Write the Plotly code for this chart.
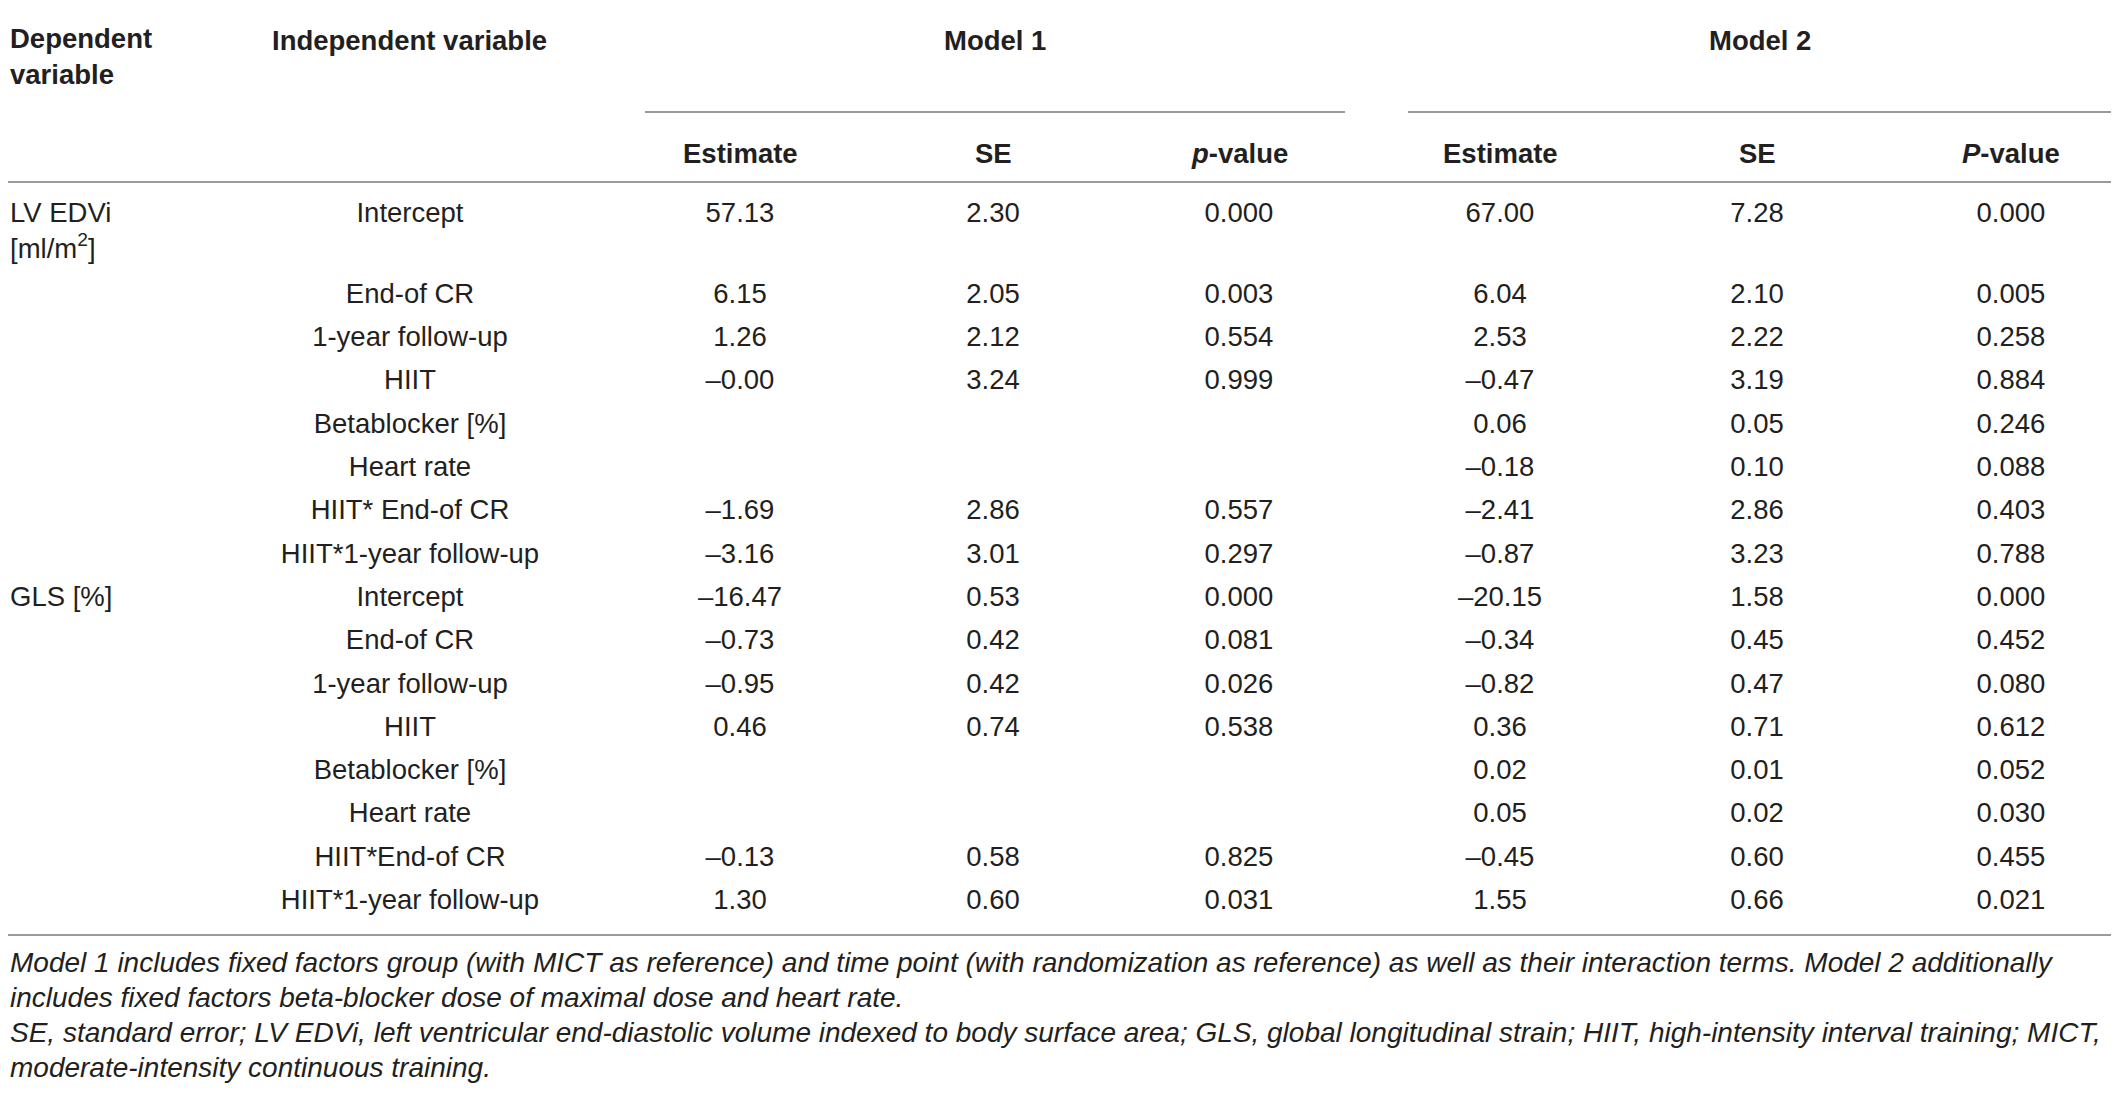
import plotly.graph_objects as go

##### DATA #####
dependent = ["LV EDVi<br>[ml/m<sup>2</sup>]", "GLS [%]"]

indep_lv = ["Intercept", "End-of CR", "1-year follow-up", "HIIT", "Betablocker [%]",
            "Heart rate", "HIIT* End-of CR", "HIIT*1-year follow-up"]
indep_gls = ["Intercept", "End-of CR", "1-year follow-up", "HIIT", "Betablocker [%]",
             "Heart rate", "HIIT*End-of CR", "HIIT*1-year follow-up"]

# model 1 (no betablocker / heart rate terms -> None)
m1_est_lv = [57.13, 6.15, 1.26, -0.00, None, None, -1.69, -3.16]
m1_se_lv = [2.30, 2.05, 2.12, 3.24, None, None, 2.86, 3.01]
m1_p_lv = [0.000, 0.003, 0.554, 0.999, None, None, 0.557, 0.297]
m1_est_gls = [-16.47, -0.73, -0.95, 0.46, None, None, -0.13, 1.30]
m1_se_gls = [0.53, 0.42, 0.42, 0.74, None, None, 0.58, 0.60]
m1_p_gls = [0.000, 0.081, 0.026, 0.538, None, None, 0.825, 0.031]

# model 2
m2_est_lv = [67.00, 6.04, 2.53, -0.47, 0.06, -0.18, -2.41, -0.87]
m2_se_lv = [7.28, 2.10, 2.22, 3.19, 0.05, 0.10, 2.86, 3.23]
m2_p_lv = [0.000, 0.005, 0.258, 0.884, 0.246, 0.088, 0.403, 0.788]
m2_est_gls = [-20.15, -0.34, -0.82, 0.36, 0.02, 0.05, -0.45, 1.55]
m2_se_gls = [1.58, 0.45, 0.47, 0.71, 0.01, 0.02, 0.60, 0.66]
m2_p_gls = [0.000, 0.452, 0.080, 0.612, 0.052, 0.030, 0.455, 0.021]

col_heads = ["Estimate", "SE", "<i>p</i>-value", "Estimate", "SE", "<i>P</i>-value"]
model_heads = ["Model 1", "Model 2"]

footnotes = [
    "Model 1 includes fixed factors group (with MICT as reference) and time point (with randomization as reference) as well as their interaction terms. Model 2 additionally",
    "includes fixed factors beta-blocker dose of maximal dose and heart rate.",
    "SE, standard error; LV EDVi, left ventricular end-diastolic volume indexed to body surface area; GLS, global longitudinal strain; HIIT, high-intensity interval training; MICT,",
    "moderate-intensity continuous training.",
]

##### LAYOUT CONSTANTS #####
W, H = 2119, 1093
PAGE = 8           # browser body margin, figure is shifted by this much
FONT = "Liberation Sans, Arial, sans-serif"
TXT = "#231f20"
RULE = "#9a9a9a"
FS = 27.5
FS_NOTE = 28

X_DEP = 8
X_INDEP = 410
X_INDEP_HEAD = 270
X_COLS = [740, 993, 1239, 1500, 1757, 2011]
MODEL_SPANS = [(645, 1345), (1408, 2112)]

Y_FIRST = 215      # first row (taller, two-line dependent label)
Y_SECOND = 296
STEP = 43.3
Y_NOTE = 962
NOTE_STEP = 35.2


def fmt(v, nd):
    return f"{v:.{nd}f}".replace("-", "\u2013")


indep = indep_lv + indep_gls
row_y = [Y_FIRST] + [Y_SECOND + STEP * k for k in range(len(indep) - 1)]

columns = [
    (m1_est_lv + m1_est_gls, 2),
    (m1_se_lv + m1_se_gls, 2),
    (m1_p_lv + m1_p_gls, 3),
    (m2_est_lv + m2_est_gls, 2),
    (m2_se_lv + m2_se_gls, 2),
    (m2_p_lv + m2_p_gls, 3),
]

fig = go.Figure()

# independent variable column
fig.add_trace(go.Scatter(
    x=[X_INDEP] * len(indep), y=row_y, text=indep, mode="text",
    textposition="middle center", hoverinfo="skip",
    textfont=dict(family=FONT, size=FS, color=TXT),
))

# numeric columns (blank cells skipped)
for xc, (vals, nd) in zip(X_COLS, columns):
    ys = [y for y, v in zip(row_y, vals) if v is not None]
    txt = [fmt(v, nd) for v in vals if v is not None]
    fig.add_trace(go.Scatter(
        x=[xc] * len(ys), y=ys, text=txt, mode="text",
        textposition="middle center", hoverinfo="skip",
        textfont=dict(family=FONT, size=FS, color=TXT),
    ))

# dependent variable labels (top aligned with first row of each block)
dep_rows = [0, len(indep_lv)]
for lab, r in zip(dependent, dep_rows):
    fig.add_annotation(x=X_DEP, y=row_y[r] - 20, text=lab, showarrow=False,
                       xanchor="left", yanchor="top", align="left",
                       font=dict(family=FONT, size=FS, color=TXT))

# headers
bold = dict(family=FONT, size=FS, color=TXT, weight="bold")
fig.add_annotation(x=X_DEP, y=21, text="Dependent<br>variable", showarrow=False,
                   xanchor="left", yanchor="top", align="left", font=bold)
fig.add_annotation(x=X_INDEP_HEAD, y=40, text="Independent variable", showarrow=False,
                   xanchor="left", yanchor="middle", font=bold)
for name, (a, b) in zip(model_heads, MODEL_SPANS):
    fig.add_annotation(x=(a + b) / 2, y=40, text=name, showarrow=False,
                       xanchor="center", yanchor="middle", font=bold)
    fig.add_shape(type="line", x0=a, x1=b, y0=112, y1=112, xref="x", yref="y",
                  line=dict(color=RULE, width=2))
for xc, h in zip(X_COLS, col_heads):
    fig.add_annotation(x=xc, y=153, text=h, showarrow=False,
                       xanchor="center", yanchor="middle", font=bold)

# horizontal rules
for yy in [7, 182, 935]:
    fig.add_shape(type="line", x0=8, x1=2112, y0=yy, y1=yy, xref="x", yref="y",
                  line=dict(color=RULE, width=2))

# footnotes
for k, line in enumerate(footnotes):
    fig.add_annotation(x=X_DEP, y=Y_NOTE + NOTE_STEP * k, text=f"<i>{line}</i>",
                       showarrow=False, xanchor="left", yanchor="middle", align="left",
                       font=dict(family=FONT, size=FS_NOTE, color=TXT))

fig.update_layout(
    width=W - PAGE, height=H - PAGE,
    margin=dict(l=0, r=0, t=0, b=0),
    paper_bgcolor="white", plot_bgcolor="white",
    showlegend=False,
    xaxis=dict(range=[PAGE, W], visible=False, fixedrange=True),
    yaxis=dict(range=[H, PAGE], visible=False, fixedrange=True),
)

fig.write_html("out.html")
